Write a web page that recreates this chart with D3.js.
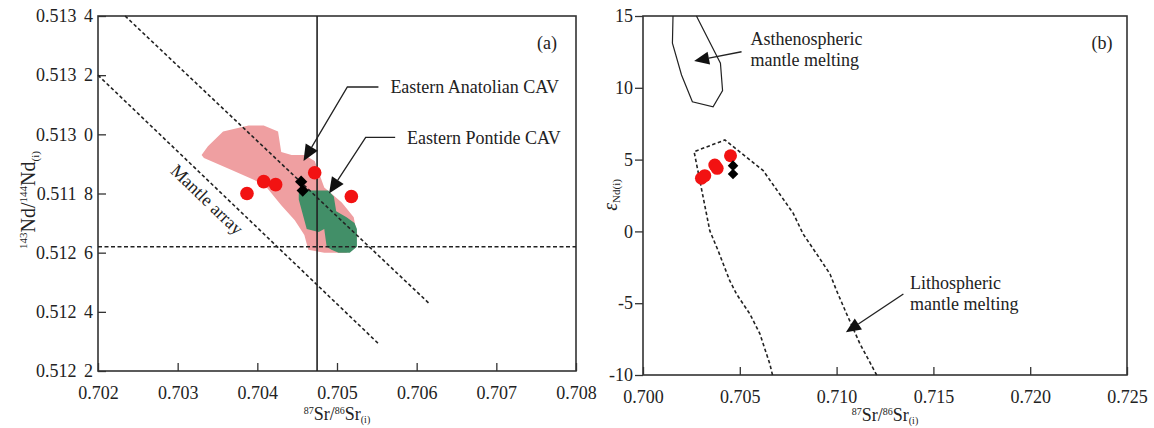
<!DOCTYPE html>
<html>
<head>
<meta charset="utf-8">
<script src="https://cdn.jsdelivr.net/npm/d3@7"></script>
<style>
body { margin: 0; background: #fff; }
svg text { font-family: "Liberation Serif", "Times New Roman", serif; fill: #222; }
</style>
</head>
<body>
<svg id="drawing_region"></svg>
<script>
// ---------- panel (a): 87Sr/86Sr vs 143Nd/144Nd ----------
const srTicksA = [0.702, 0.703, 0.704, 0.705, 0.706, 0.707, 0.708];
const srTickLabelsA = ["0.702", "0.703", "0.704", "0.705", "0.706", "0.707", "0.708"];
const ndTicksA = [0.5122, 0.5124, 0.5126, 0.5128, 0.5130, 0.5132, 0.5134];
const ndTickLabelsA = ["0.512 2", "0.512 4", "0.512 6", "0.511 8", "0.513 0", "0.513 2", "0.513 4"];

const samplesA = [[0.70387, 0.51280], [0.70408, 0.51284], [0.70423, 0.51283], [0.70472, 0.51287], [0.70518, 0.51279]];
const diamondsA = [[0.70455, 0.51284], [0.70457, 0.51281]];

const anatolianField = [
  [0.70330, 0.51293], [0.70338, 0.51296], [0.70357, 0.51301], [0.70389, 0.51303], [0.70408, 0.51303],
  [0.70426, 0.51301], [0.70430, 0.51294], [0.70443, 0.51293], [0.70459, 0.51293], [0.70472, 0.51291],
  [0.70484, 0.51282], [0.70506, 0.51277], [0.70521, 0.51272], [0.70525, 0.51266], [0.70512, 0.51260],
  [0.70484, 0.51260], [0.70464, 0.51261], [0.70459, 0.51266], [0.70447, 0.51271], [0.70430, 0.51276],
  [0.70409, 0.51283], [0.70367, 0.51288], [0.70333, 0.51292]
];
const pontideField = [
  [0.70452, 0.51280], [0.70455, 0.51281], [0.70474, 0.51281], [0.70489, 0.51281], [0.70496, 0.51279],
  [0.70499, 0.51274], [0.70512, 0.51272], [0.70522, 0.51270], [0.70525, 0.51268], [0.70525, 0.51262],
  [0.70516, 0.51260], [0.70502, 0.51260], [0.70493, 0.51261], [0.70487, 0.51262], [0.70484, 0.51268],
  [0.70477, 0.51267], [0.70462, 0.51268], [0.70458, 0.51272], [0.70452, 0.51278]
];
const mantleArrayUpper = [[0.70234, 0.5134], [0.70615, 0.51243]];
const mantleArrayLower = [[0.70200, 0.5132], [0.70553, 0.51229]];
const bseSr = 0.70475;
const churNd = 0.51262;

// ---------- panel (b): 87Sr/86Sr vs eNd ----------
const srTicksB = [0.700, 0.705, 0.710, 0.715, 0.720, 0.725];
const srTickLabelsB = ["0.700", "0.705", "0.710", "0.715", "0.720", "0.725"];
const epsTicksB = [-10, -5, 0, 5, 10, 15];
const epsTickLabelsB = ["-10", "-5", "0", "5", "10", "15"];

const samplesB = [[0.70302, 3.70], [0.70319, 3.88], [0.70371, 4.62], [0.70383, 4.39], [0.70452, 5.27]];
const diamondsB = [[0.70465, 4.58], [0.70465, 4.00]];

const asthenosphereField = [
  [0.70155, 15], [0.70152, 13.10], [0.70199, 10.89], [0.70255, 9.03], [0.70362, 8.68],
  [0.70411, 9.80], [0.70400, 11.71], [0.70276, 15]
];
const lithosphereField = [
  [0.70669, -10], [0.70655, -9.23], [0.70621, -7.84], [0.70604, -7.14], [0.70552, -5.75],
  [0.70483, -4.36], [0.70448, -3.43], [0.70388, -1.34], [0.70345, 0.05], [0.70328, 1.21],
  [0.70293, 3.58], [0.70264, 5.55], [0.70423, 6.37], [0.70621, 4.23], [0.70776, 1.26],
  [0.70827, -0.18], [0.70897, -1.57], [0.70966, -2.97], [0.71000, -4.13], [0.71052, -5.75],
  [0.71121, -7.84], [0.71207, -10]
];

// annotation anchors, in data units
const notesA = [
  { text: "Eastern Anatolian CAV", at: [0.70567, 0.51316], arrow: [[0.70552, 0.51316], [0.70513, 0.51316], [0.70458, 0.51291]] },
  { text: "Eastern Pontide CAV", at: [0.70588, 0.51299], arrow: [[0.70573, 0.51299], [0.70536, 0.51299], [0.70490, 0.51280]] }
];
const notesB = [
  { lines: ["Asthenospheric", "mantle melting"], at: [0.70555, 12.98], arrow: [[0.70509, 12.51], [0.70264, 11.87]] },
  { lines: ["Lithospheric", "mantle melting"], at: [0.71379, -4.01], arrow: [[0.71345, -4.36], [0.71048, -7.03]] }
];
const mantleArrayLabel = [0.70337, 0.51278];

const ink = "#222";
const svg = d3.select("#drawing_region").attr("width", 1154).attr("height", 428);

function makePanel(cfg) {
  const g = svg.append("g").attr("transform", `translate(${cfg.left},${cfg.top})`);
  const x = d3.scaleLinear().domain(cfg.xDomain).range([0, cfg.width]);
  const y = d3.scaleLinear().domain(cfg.yDomain).range([cfg.height, 0]);

  const xAxis = d3.axisBottom(x).tickValues(cfg.xTicks)
    .tickFormat((d, i) => cfg.xLabels[i]).tickSizeInner(-8).tickSizeOuter(0).tickPadding(15);
  const yAxis = d3.axisLeft(y).tickValues(cfg.yTicks)
    .tickFormat((d, i) => cfg.yLabels[i]).tickSizeInner(cfg.yTickIn ? -8 : 8).tickSizeOuter(0)
    .tickPadding(cfg.yTickIn ? 5 : 2);

  const xg = g.append("g").attr("transform", `translate(0,${cfg.height})`).call(xAxis);
  const yg = g.append("g").call(yAxis);
  [xg, yg].forEach(a => {
    a.select(".domain").remove();
    a.selectAll(".tick line").attr("stroke", "#333").attr("stroke-width", 1.3);
    a.selectAll(".tick text").attr("font-size", 18).attr("fill", ink)
      .attr("font-family", '"Liberation Serif", "Times New Roman", serif').style("word-spacing", "3px");
  });

  g.append("rect").attr("width", cfg.width).attr("height", cfg.height)
    .attr("fill", "none").attr("stroke", "#333").attr("stroke-width", 1.6);

  g.append("text").attr("x", cfg.width - cfg.tagOffset).attr("y", 27).attr("dy", "0.35em")
    .attr("text-anchor", "middle").attr("font-size", 18).text(cfg.tag);

  return { g, x, y };
}

function arrowHead(tip, from, len, half) {
  const dx = tip[0] - from[0], dy = tip[1] - from[1];
  const d = Math.hypot(dx, dy), ux = dx / d, uy = dy / d;
  const bx = tip[0] - ux * len, by = tip[1] - uy * len;
  return { base: [bx, by], d: `M${tip[0]},${tip[1]}L${bx - uy * half},${by + ux * half}L${bx + uy * half},${by - ux * half}Z` };
}

function drawArrow(g, pts, len, half) {
  const n = pts.length;
  const head = arrowHead(pts[n - 1], pts[n - 2], len, half);
  const shaft = pts.slice(0, n - 1).concat([head.base]);
  g.append("path").attr("d", d3.line()(shaft)).attr("fill", "none").attr("stroke", ink).attr("stroke-width", 1.3);
  g.append("path").attr("d", head.d).attr("fill", "#111");
}

// axis title 87Sr/86Sr(i)
function srTitle(x, y) {
  const t = svg.append("text").attr("x", x).attr("y", y).attr("text-anchor", "middle").attr("font-size", 18);
  t.append("tspan").attr("font-size", 10).attr("dy", -6).text("87");
  t.append("tspan").attr("dy", 6).text("Sr/");
  t.append("tspan").attr("font-size", 10).attr("dy", -6).text("86");
  t.append("tspan").attr("dy", 6).text("Sr");
  t.append("tspan").attr("font-size", 10).attr("dy", 3).text("(i)");
}

// ---------- draw (a) ----------
const A = makePanel({
  left: 98, top: 16, width: 478, height: 355,
  xDomain: [0.702, 0.708], yDomain: [0.5122, 0.5134],
  xTicks: srTicksA, xLabels: srTickLabelsA, yTicks: ndTicksA, yLabels: ndTickLabelsA,
  yTickIn: true, tag: "(a)", tagOffset: 29
});
const lineA = d3.line().x(d => A.x(d[0])).y(d => A.y(d[1]));

A.g.append("path").attr("d", lineA(anatolianField) + "Z").attr("fill", "#ef9fa1");
A.g.append("path").attr("d", lineA(pontideField) + "Z").attr("fill", "#428f68");

A.g.append("line").attr("x1", A.x(bseSr)).attr("x2", A.x(bseSr)).attr("y1", 0).attr("y2", A.y(0.5122))
  .attr("stroke", ink).attr("stroke-width", 1.6);
A.g.append("line").attr("x1", 0).attr("x2", A.x(0.708)).attr("y1", A.y(churNd)).attr("y2", A.y(churNd))
  .attr("stroke", ink).attr("stroke-width", 1.6).attr("stroke-dasharray", "4,2.5");
[mantleArrayUpper, mantleArrayLower].forEach(l => {
  A.g.append("path").attr("d", lineA(l)).attr("fill", "none")
    .attr("stroke", ink).attr("stroke-width", 1.6).attr("stroke-dasharray", "3.5,2.5");
});

const ang = Math.atan2(A.y(mantleArrayLower[1][1]) - A.y(mantleArrayLower[0][1]),
  A.x(mantleArrayLower[1][0]) - A.x(mantleArrayLower[0][0])) * 180 / Math.PI;
A.g.append("text")
  .attr("transform", `translate(${A.x(mantleArrayLabel[0])},${A.y(mantleArrayLabel[1])}) rotate(${ang})`)
  .attr("text-anchor", "middle").attr("dy", "0.35em").attr("font-size", 18).text("Mantle array");

A.g.selectAll("circle.s").data(samplesA).enter().append("circle")
  .attr("cx", d => A.x(d[0])).attr("cy", d => A.y(d[1])).attr("r", 6.8).attr("fill", "#f21212");
A.g.selectAll("path.dm").data(diamondsA).enter().append("path")
  .attr("d", d3.symbol(d3.symbolSquare, 76))
  .attr("transform", d => `translate(${A.x(d[0])},${A.y(d[1])}) rotate(45)`).attr("fill", "#000");

notesA.forEach(n => {
  drawArrow(A.g, n.arrow.map(p => [A.x(p[0]), A.y(p[1])]), 16, 7);
  A.g.append("text").attr("x", A.x(n.at[0])).attr("y", A.y(n.at[1])).attr("dy", "0.35em")
    .attr("font-size", 18).text(n.text);
});

srTitle(98 + 239, 420);

const ytA = svg.append("text").attr("transform", "translate(35,200) rotate(-90)").attr("text-anchor", "middle").attr("font-size", 20);
ytA.append("tspan").attr("font-size", 11).attr("dy", -8).text("143");
ytA.append("tspan").attr("dy", 8).text("Nd/");
ytA.append("tspan").attr("font-size", 11).attr("dy", -8).text("144");
ytA.append("tspan").attr("dy", 8).text("Nd");
ytA.append("tspan").attr("font-size", 11).attr("dy", 4).text("(i)");

// ---------- draw (b) ----------
const B = makePanel({
  left: 643, top: 16, width: 484, height: 359,
  xDomain: [0.700, 0.725], yDomain: [-10, 15],
  xTicks: srTicksB, xLabels: srTickLabelsB, yTicks: epsTicksB, yLabels: epsTickLabelsB,
  yTickIn: false, tag: "(b)", tagOffset: 25
});
const lineB = d3.line().x(d => B.x(d[0])).y(d => B.y(d[1]));

B.g.append("path").attr("d", lineB(asthenosphereField)).attr("fill", "none")
  .attr("stroke", ink).attr("stroke-width", 1.2);
B.g.append("path").attr("d", lineB(lithosphereField)).attr("fill", "none")
  .attr("stroke", ink).attr("stroke-width", 1.6).attr("stroke-dasharray", "3.5,2.5");

B.g.selectAll("circle.s").data(samplesB).enter().append("circle")
  .attr("cx", d => B.x(d[0])).attr("cy", d => B.y(d[1])).attr("r", 6.5).attr("fill", "#f21212");
B.g.selectAll("path.dm").data(diamondsB).enter().append("path")
  .attr("d", d3.symbol(d3.symbolSquare, 56))
  .attr("transform", d => `translate(${B.x(d[0])},${B.y(d[1])}) rotate(45)`).attr("fill", "#000");

notesB.forEach(n => {
  drawArrow(B.g, n.arrow.map(p => [B.x(p[0]), B.y(p[1])]), 15, 6.5);
  const t = B.g.append("text").attr("x", B.x(n.at[0])).attr("y", B.y(n.at[1])).attr("dy", "0.35em").attr("font-size", 18);
  n.lines.forEach((s, i) => t.append("tspan").attr("x", B.x(n.at[0])).attr("dy", i ? "1.15em" : 0).text(s));
});

srTitle(643 + 242, 421);

const ytB = svg.append("text").attr("transform", "translate(617,195) rotate(-90)").attr("text-anchor", "middle");
ytB.append("tspan").attr("font-size", 20).attr("font-style", "italic").text("ε");
ytB.append("tspan").attr("font-size", 11).attr("dy", 3).text("Nd(i)");
</script>
</body>
</html>
